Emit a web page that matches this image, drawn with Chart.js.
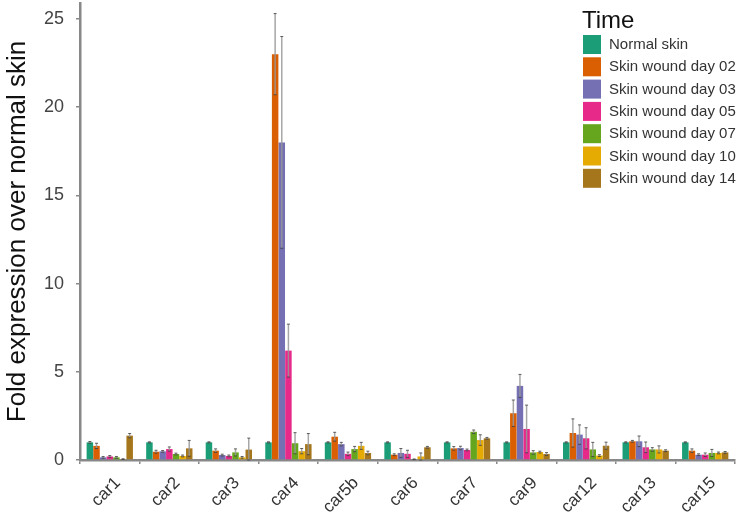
<!DOCTYPE html>
<html>
<head>
<meta charset="utf-8">
<script src="https://cdn.jsdelivr.net/npm/chart.js@4/dist/chart.umd.min.js"></script>
<style>
html,body{margin:0;padding:0;background:#fff;}
#wrap{width:744px;height:516px;}
</style>
</head>
<body>
<div id="wrap"><canvas id="c" width="744" height="516"></canvas></div>
<script>
const categories = ["car1","car2","car3","car4","car5b","car6","car7","car9","car12","car13","car15"];
const seriesNames = ["Normal skin","Skin wound day 02","Skin wound day 03","Skin wound day 05","Skin wound day 07","Skin wound day 10","Skin wound day 14"];
const colors = ["#1B9E77","#D95F02","#7570B3","#E7298A","#66A61E","#E6AB02","#A6761D"];

const normalSkin = [1,1,1,1,1,1,1,1,1,1,1];
const day02 = [0.8,0.47,0.53,23.0,1.32,0.3,0.66,2.65,1.53,1.06,0.53];
const day03 = [0.15,0.49,0.28,18.0,0.9,0.4,0.68,4.2,1.44,1.06,0.3];
const day05 = [0.2,0.62,0.23,6.2,0.35,0.35,0.57,1.76,1.23,0.72,0.3];
const day07 = [0.15,0.34,0.43,0.95,0.62,0.04,1.6,0.43,0.6,0.6,0.4];
const day10 = [0.05,0.23,0.15,0.5,0.8,0.2,1.13,0.45,0.25,0.6,0.4];
const day14 = [1.38,0.66,0.59,0.9,0.4,0.72,1.23,0.34,0.81,0.53,0.43];

const errNormal = [0.05,0.03,0.03,0.03,0.03,0.03,0.03,0.03,0.03,0.03,0.03];
const err02 = [0.15,0.08,0.1,2.3,0.25,0.05,0.1,0.75,0.8,0.05,0.1];
const err03 = [0.05,0.05,0.05,6.0,0.1,0.25,0.1,0.65,0.55,0.3,0.05];
const err05 = [0.05,0.12,0.05,1.5,0.1,0.2,0.05,1.35,0.6,0.3,0.1];
const err07 = [0.05,0.05,0.2,0.6,0.15,0.02,0.1,0.1,0.4,0.1,0.2];
const err10 = [0.02,0.05,0.05,0.15,0.2,0.2,0.3,0.05,0.05,0.2,0.05];
const err14 = [0.12,0.45,0.65,0.6,0.1,0.05,0.05,0.08,0.2,0.05,0.05];

const yTicks = [0,5,10,15,20,25];

const values = [normalSkin,day02,day03,day05,day07,day10,day14];
const errors = [errNormal,err02,err03,err05,err07,err10,err14];

const datasets = seriesNames.map((n,i)=>({
  label:n, data:values[i], errors:errors[i],
  backgroundColor:colors[i], borderWidth:0,
  barPercentage:0.98, categoryPercentage:0.78
}));

const errorBars = {
  id:'errorBars',
  afterDatasetsDraw(chart){
    const ctx = chart.ctx, y = chart.scales.y;
    chart.data.datasets.forEach((ds,di)=>{
      const meta = chart.getDatasetMeta(di);
      meta.data.forEach((bar,i)=>{
        const v = ds.data[i], e = ds.errors[i];
        const yt = y.getPixelForValue(v+e), yb = y.getPixelForValue(Math.max(0,v-e));
        ctx.save();
        ctx.strokeStyle='rgba(150,150,150,0.85)'; ctx.lineWidth=1.5;
        ctx.beginPath(); ctx.moveTo(bar.x,yt); ctx.lineTo(bar.x,yb); ctx.stroke();
        ctx.strokeStyle='rgba(60,60,60,0.8)'; ctx.lineWidth=1;
        ctx.beginPath();
        ctx.moveTo(bar.x-1.5,yt); ctx.lineTo(bar.x+1.5,yt);
        ctx.moveTo(bar.x-1.5,yb); ctx.lineTo(bar.x+1.5,yb);
        ctx.stroke();
        ctx.restore();
      });
    });
  }
};

const legendPlugin = {
  id:'customLegend',
  afterDraw(chart){
    const ctx = chart.ctx;
    ctx.save();
    ctx.fillStyle='#111';
    ctx.font='24px "Liberation Sans", Arial, sans-serif';
    ctx.textBaseline='alphabetic';
    ctx.fillText('Time',582,28);
    chart.data.datasets.forEach((ds,i)=>{
      const top = 35 + i*22.3;
      ctx.fillStyle=ds.backgroundColor;
      ctx.fillRect(583,top,18,19);
      ctx.fillStyle='#333';
      ctx.font='15px "Liberation Sans", Arial, sans-serif';
      ctx.textBaseline='middle';
      ctx.fillText(ds.label,609,top+10);
    });
    ctx.restore();
  }
};

new Chart(document.getElementById('c'),{
  type:'bar',
  data:{labels:categories,datasets:datasets},
  options:{
    responsive:false, animation:false,
    layout:{padding:{top:3,right:9,left:0,bottom:0}},
    plugins:{legend:{display:false},tooltip:{enabled:false}},
    scales:{
      x:{
        offset:true,
        grid:{drawOnChartArea:false,drawTicks:true,tickLength:4,color:'#888',lineWidth:1.5},
        border:{display:true,color:'#888',width:2.5},
        ticks:{minRotation:45,maxRotation:45,color:'#333',padding:9,labelOffset:8,
          font:{size:17,family:'"Liberation Sans", Arial, sans-serif'}},
        afterFit(s){s.height=56;s.paddingLeft=0;s.paddingRight=0;}
      },
      y:{
        min:0,max:25.9,
        afterBuildTicks(a){a.ticks=yTicks.map(v=>({value:v}));},
        grid:{drawOnChartArea:false,drawTicks:true,tickLength:4,color:'#888',lineWidth:1.5},
        border:{display:true,color:'#888',width:2.5},
        ticks:{color:'#444',padding:12,font:{size:18,family:'"Liberation Sans", Arial, sans-serif'}},
        title:{display:true,text:'Fold expression over normal skin',color:'#111',
          font:{size:26,family:'"Liberation Sans", Arial, sans-serif'},padding:{top:2,bottom:0}},
        afterFit(s){s.width=80;s.paddingTop=0;s.paddingBottom=0;}
      }
    }
  },
  plugins:[errorBars,legendPlugin]
});
</script>
</body>
</html>
